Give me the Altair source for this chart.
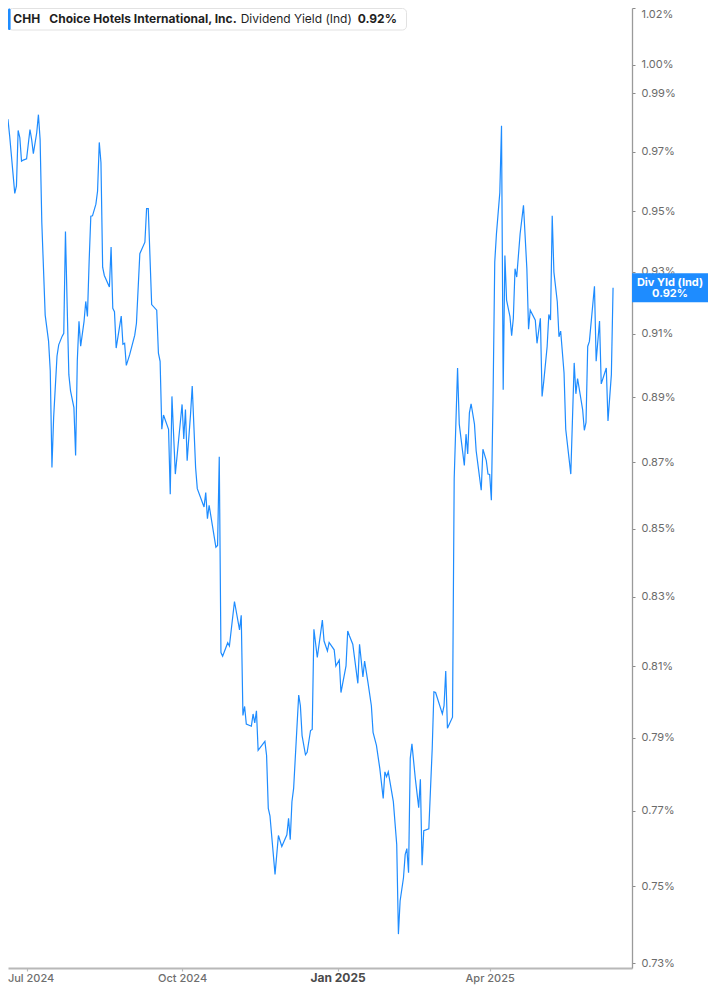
import altair as alt
import pandas as pd

# ---- data ----
DATES = [
    "2024-06-17", "2024-06-18", "2024-06-19", "2024-06-20", "2024-06-21", "2024-06-24", "2024-06-25",
    "2024-06-26", "2024-06-27", "2024-06-28", "2024-06-29", "2024-07-01", "2024-07-03", "2024-07-04",
    "2024-07-05", "2024-07-07", "2024-07-08", "2024-07-09", "2024-07-10", "2024-07-12", "2024-07-14",
    "2024-07-15", "2024-07-16", "2024-07-17", "2024-07-19", "2024-07-20", "2024-07-22", "2024-07-23",
    "2024-07-24", "2024-07-25", "2024-07-26", "2024-07-27", "2024-07-29", "2024-07-30", "2024-07-31",
    "2024-08-01", "2024-08-02", "2024-08-04", "2024-08-05", "2024-08-06", "2024-08-07", "2024-08-08",
    "2024-08-09", "2024-08-11", "2024-08-12", "2024-08-13", "2024-08-14", "2024-08-15", "2024-08-16",
    "2024-08-19", "2024-08-20", "2024-08-21", "2024-08-22", "2024-08-23", "2024-08-26", "2024-08-27",
    "2024-08-28", "2024-08-29", "2024-08-31", "2024-09-03", "2024-09-04", "2024-09-06", "2024-09-09",
    "2024-09-10", "2024-09-11", "2024-09-13", "2024-09-16", "2024-09-17", "2024-09-18", "2024-09-19",
    "2024-09-20", "2024-09-23", "2024-09-24", "2024-09-25", "2024-09-27", "2024-09-29", "2024-10-01",
    "2024-10-02", "2024-10-03", "2024-10-04", "2024-10-06", "2024-10-07", "2024-10-09", "2024-10-10",
    "2024-10-14", "2024-10-15", "2024-10-16", "2024-10-17", "2024-10-21", "2024-10-22", "2024-10-23",
    "2024-10-24", "2024-10-25", "2024-10-28", "2024-10-29", "2024-11-01", "2024-11-04", "2024-11-05",
    "2024-11-06", "2024-11-07", "2024-11-08", "2024-11-11", "2024-11-12", "2024-11-13", "2024-11-14",
    "2024-11-15", "2024-11-19", "2024-11-20", "2024-11-21", "2024-11-22", "2024-11-25", "2024-11-27",
    "2024-11-29", "2024-12-02", "2024-12-03", "2024-12-04", "2024-12-05", "2024-12-06", "2024-12-09",
    "2024-12-10", "2024-12-11", "2024-12-13", "2024-12-14", "2024-12-16", "2024-12-17", "2024-12-18",
    "2024-12-20", "2024-12-23", "2024-12-24", "2024-12-26", "2024-12-27", "2024-12-30", "2024-12-31",
    "2025-01-02", "2025-01-03", "2025-01-06", "2025-01-07", "2025-01-08", "2025-01-10", "2025-01-13",
    "2025-01-14", "2025-01-16", "2025-01-17", "2025-01-19", "2025-01-21", "2025-01-22", "2025-01-24",
    "2025-01-26", "2025-01-28", "2025-01-29", "2025-01-30", "2025-01-31", "2025-02-03", "2025-02-05",
    "2025-02-06", "2025-02-07", "2025-02-09", "2025-02-10", "2025-02-11", "2025-02-12", "2025-02-13",
    "2025-02-14", "2025-02-16", "2025-02-18", "2025-02-19", "2025-02-20", "2025-02-21", "2025-02-24",
    "2025-02-25", "2025-02-26", "2025-02-27", "2025-02-28", "2025-03-04", "2025-03-05", "2025-03-06",
    "2025-03-07", "2025-03-10", "2025-03-11", "2025-03-13", "2025-03-14", "2025-03-17", "2025-03-18",
    "2025-03-19", "2025-03-20", "2025-03-21", "2025-03-23", "2025-03-24", "2025-03-26", "2025-03-27",
    "2025-03-28", "2025-03-30", "2025-03-31", "2025-04-01", "2025-04-02", "2025-04-03", "2025-04-04",
    "2025-04-05", "2025-04-07", "2025-04-08", "2025-04-09", "2025-04-10", "2025-04-11", "2025-04-13",
    "2025-04-14", "2025-04-15", "2025-04-16", "2025-04-17", "2025-04-19", "2025-04-21", "2025-04-23",
    "2025-04-24", "2025-04-25", "2025-04-28", "2025-04-29", "2025-05-01", "2025-05-02", "2025-05-03",
    "2025-05-05", "2025-05-06", "2025-05-07", "2025-05-08", "2025-05-09", "2025-05-11", "2025-05-12",
    "2025-05-13", "2025-05-15", "2025-05-16", "2025-05-19", "2025-05-21", "2025-05-22", "2025-05-23",
    "2025-05-26", "2025-05-27", "2025-05-28", "2025-05-29", "2025-05-30", "2025-06-02", "2025-06-03",
    "2025-06-05", "2025-06-06", "2025-06-09", "2025-06-10", "2025-06-12", "2025-06-13",
]

YIELDS = [
    0.9868, 0.9802, 0.9806, 0.9808, 0.9752, 0.9559, 0.9584,
    0.9772, 0.9747, 0.9667, 0.9671, 0.9675, 0.9775, 0.9741,
    0.9693, 0.9764, 0.9826, 0.9741, 0.9463, 0.9160, 0.9077,
    0.8983, 0.8684, 0.8837, 0.9030, 0.9065, 0.9092, 0.9102,
    0.9432, 0.9192, 0.8971, 0.8920, 0.8868, 0.8721, 0.9014,
    0.9140, 0.9061, 0.9140, 0.9204, 0.9156, 0.9333, 0.9483,
    0.9484, 0.9523, 0.9567, 0.9731, 0.9663, 0.9315, 0.9288,
    0.9251, 0.9381, 0.9182, 0.9171, 0.9055, 0.9157, 0.9067,
    0.9070, 0.9000, 0.9034, 0.9096, 0.9134, 0.9359, 0.9397,
    0.9508, 0.9508, 0.9194, 0.9176, 0.9039, 0.9013, 0.8801,
    0.8845, 0.8801, 0.8603, 0.8903, 0.8664, 0.8771, 0.8878,
    0.8771, 0.8862, 0.8705, 0.8847, 0.8935, 0.8684, 0.8620,
    0.8565, 0.8608, 0.8530, 0.8570, 0.8445, 0.8450, 0.8717,
    0.8139, 0.8129, 0.8167, 0.8158, 0.8286, 0.8204, 0.8246,
    0.7962, 0.7987, 0.7938, 0.7932, 0.7966, 0.7941, 0.7975,
    0.7865, 0.7890, 0.7851, 0.7707, 0.7687, 0.7531, 0.7634,
    0.7605, 0.7636, 0.7680, 0.7623, 0.7725, 0.7761, 0.8019,
    0.7989, 0.7906, 0.7853, 0.7860, 0.7920, 0.7923, 0.8206,
    0.8125, 0.8232, 0.8172, 0.8144, 0.8168, 0.8147, 0.8101,
    0.8118, 0.8026, 0.8101, 0.8201, 0.8187, 0.8163, 0.8052,
    0.8163, 0.8070, 0.8115, 0.8054, 0.7989, 0.7915, 0.7879,
    0.7815, 0.7734, 0.7806, 0.7793, 0.7806, 0.7725, 0.7610,
    0.7375, 0.7461, 0.7522, 0.7583, 0.7599, 0.7535, 0.7843,
    0.7883, 0.7788, 0.7709, 0.7786, 0.7555, 0.7647, 0.7652,
    0.7761, 0.7870, 0.8028, 0.8026, 0.7966, 0.7989, 0.8087,
    0.7926, 0.7957, 0.8649, 0.8992, 0.8817, 0.8690, 0.8786,
    0.8725, 0.8852, 0.8880, 0.8817, 0.8735, 0.8655, 0.8615,
    0.8740, 0.8705, 0.8664, 0.8663, 0.8585, 0.8898, 0.9332,
    0.9424, 0.9562, 0.9788, 0.8924, 0.9353, 0.9208, 0.9155,
    0.9094, 0.9150, 0.9310, 0.9283, 0.9424, 0.9519, 0.9310,
    0.9115, 0.9176, 0.9144, 0.9070, 0.9150, 0.8903, 0.8950,
    0.9060, 0.9162, 0.9144, 0.9484, 0.9299, 0.9203, 0.9091,
    0.9109, 0.8976, 0.8801, 0.8664, 0.9008, 0.8911, 0.8959,
    0.8862, 0.8798, 0.8822, 0.9060, 0.9076, 0.9253, 0.9013,
    0.9141, 0.8942, 0.8992, 0.8827, 0.8971, 0.9248,
]

Y_TICKS = [0.73, 0.75, 0.77, 0.79, 0.81, 0.83, 0.85, 0.87, 0.89, 0.91,
           0.93, 0.95, 0.97, 0.99, 1.00, 1.02]
X_TICKS = [(2024, 7, 1), (2024, 10, 1), (2025, 1, 1), (2025, 4, 1)]
LEGEND_TEXTS = ["CHH", "Choice Hotels International, Inc.", "Dividend Yield (Ind)", "0.92%"]
TAG_TEXTS = ["Div Yld (Ind)", "0.92%"]

# ---- styles ----
BLUE = "#1e8cff"
FONT = "Inter"
LEGEND_X = [5.3, 41.3, 232.7, 349.7]
LEGEND_WEIGHT = ["bold", "bold", "normal", "bold"]
PLOT_W, PLOT_H = 624, 960
TAG_W = 76

df = pd.DataFrame({"date": pd.to_datetime(DATES), "value": YIELDS})
last = df.tail(1)
one = pd.DataFrame({"k": [0]})

x_scale = alt.Scale(domain=[alt.DateTime(year=2024, month=6, date=20),
                            alt.DateTime(year=2025, month=6, date=24, hours=5)])
y_scale = alt.Scale(type="log", domain=[0.7288, 1.02], nice=False, zero=False)

is_jan = "month(datum.value) === 0"
is_jul = "month(datum.value) === 6"
x_axis = alt.Axis(
    values=[alt.DateTime(year=y, month=m, date=d) for (y, m, d) in X_TICKS],
    format="%b %Y", title=None, grid=False, labelOverlap=False,
    labelFont=FONT,
    labelFontSize={"condition": {"test": is_jan, "value": 12}, "value": 11},
    labelFontWeight={"condition": {"test": is_jan, "value": "bold"}, "value": 500},
    labelColor={"condition": {"test": is_jan, "value": "#4a4a4a"}, "value": "#6e6e6e"},
    labelOffset={"condition": {"test": is_jul, "value": 4}, "value": 0},
    labelPadding=1, tickSize=3, tickWidth=1.2, tickColor="#b8b8b8",
    domainColor="#b8b8b8", domainWidth=2,
)
y_axis = alt.Axis(
    orient="right", values=Y_TICKS, title=None, grid=False, labelOverlap=False,
    labelExpr="format(datum.value, '.2f') + '%'",
    labelFont=FONT, labelFontSize=11, labelColor="#6b6b6b", labelPadding=6,
    labelFlush=True, tickSize=3, tickColor="#8a8a8a", tickWidth=1,
    domainColor="#9a9a9a", domainWidth=1.3,
)

line = alt.Chart(df).mark_line(color=BLUE, strokeWidth=1.2, clip=True).encode(
    x=alt.X("date:T", scale=x_scale, axis=x_axis),
    y=alt.Y("value:Q", scale=y_scale, axis=y_axis),
)

tag_box = alt.Chart(last).mark_point(
    shape="M-1,-0.38H1V0.38H-1Z", size=TAG_W * TAG_W, filled=True,
    color=BLUE, opacity=1, strokeWidth=0,
).encode(x=alt.value(PLOT_W + TAG_W / 2), y=alt.Y("value:Q", scale=y_scale))

tag_top = alt.Chart(last).mark_text(
    text=TAG_TEXTS[0], font=FONT, fontSize=11, fontWeight="bold", color="white",
    align="center", baseline="middle", dy=-4.4,
).encode(x=alt.value(PLOT_W + TAG_W / 2), y=alt.Y("value:Q", scale=y_scale))

tag_bottom = alt.Chart(last).mark_text(
    text=TAG_TEXTS[1], font=FONT, fontSize=11, fontWeight="bold", color="white",
    align="center", baseline="middle", dy=6.3,
).encode(x=alt.value(PLOT_W + TAG_W / 2), y=alt.Y("value:Q", scale=y_scale))

legend_box = alt.Chart(one).mark_rect(
    fill="white", stroke="#e2e2e2", strokeWidth=1, cornerRadius=4,
).encode(x=alt.value(0.5), x2=alt.value(398.5), y=alt.value(0.5), y2=alt.value(22))

legend_bar = alt.Chart(one).mark_rect(fill=BLUE, cornerRadius=1.5).encode(
    x=alt.value(0), x2=alt.value(2.6), y=alt.value(0.5), y2=alt.value(22)
)

legend_texts = [
    alt.Chart(one).mark_text(
        text=t, font=FONT, fontSize=12, fontWeight=w, color="#1f1f1f",
        align="left", baseline="middle",
    ).encode(x=alt.value(xp), y=alt.value(10.5))
    for t, xp, w in zip(LEGEND_TEXTS, LEGEND_X, LEGEND_WEIGHT)
]

chart = alt.layer(
    line, tag_box, tag_top, tag_bottom, legend_box, legend_bar, *legend_texts
).properties(
    width=PLOT_W, height=PLOT_H,
    padding={"left": 0, "top": 0, "right": TAG_W, "bottom": 17},
    autosize=alt.AutoSizeParams(type="none"),
    background="white",
).configure_view(stroke=None)

chart.save("out.html", embed_options={"renderer": "svg", "actions": False})
